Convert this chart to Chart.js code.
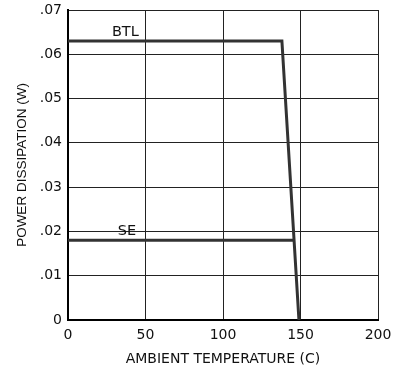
<!DOCTYPE html>
<html>
<head>
<meta charset="utf-8">
<script src="https://cdn.jsdelivr.net/npm/chart.js@4/dist/chart.umd.min.js"></script>
<style>
  html, body { margin: 0; padding: 0; background: #fff; }
  #wrap { width: 395px; height: 369px; }
</style>
</head>
<body>
<div id="wrap"><canvas id="chart" width="395" height="369"></canvas></div>
<script>
const btlTemp = [0, 138, 149];
const btlPower = [0.063, 0.063, 0];
const seTemp = [0, 145.5];
const sePower = [0.018, 0.018];
const xTicks = [0, 50, 100, 150, 200];
const yTicks = [0, 0.01, 0.02, 0.03, 0.04, 0.05, 0.06, 0.07];
const yTickLabels = ["0", ".01", ".02", ".03", ".04", ".05", ".06", ".07"];
const seriesNames = ["BTL", "SE"];
const nameAt = [[37, 0.063], [38, 0.018]];

const ctx = document.getElementById("chart").getContext("2d");
const wide = "'DejaVu Sans', sans-serif";
const narrow = "'Liberation Sans', Arial, sans-serif";

const curveLabels = {
  id: "curveLabels",
  afterDatasetsDraw(chart) {
    const c = chart.ctx;
    const xs = chart.scales.x, ys = chart.scales.y;
    c.save();
    c.font = "14.5px " + wide;
    c.fillStyle = "#111";
    c.textAlign = "center";
    c.textBaseline = "bottom";
    seriesNames.forEach((name, i) => {
      c.fillText(name, xs.getPixelForValue(nameAt[i][0]), ys.getPixelForValue(nameAt[i][1]) - 2);
    });
    c.restore();
  }
};

new Chart(ctx, {
  type: "line",
  data: {
    datasets: [
      {
        label: seriesNames[0],
        data: btlTemp.map((t, i) => ({ x: t, y: btlPower[i] })),
        borderColor: "#333",
        borderWidth: 3,
        pointRadius: 0,
        fill: false,
      },
      {
        label: seriesNames[1],
        data: seTemp.map((t, i) => ({ x: t, y: sePower[i] })),
        borderColor: "#333",
        borderWidth: 3,
        pointRadius: 0,
        fill: false,
      },
    ],
  },
  options: {
    responsive: false,
    animation: false,
    layout: { padding: { left: 0, right: 17, top: 10, bottom: 0 } },
    plugins: { legend: { display: false }, tooltip: { enabled: false } },
    scales: {
      x: {
        type: "linear",
        min: 0,
        max: 200,
        afterBuildTicks: (s) => { s.ticks = xTicks.map((v) => ({ value: v })); },
        afterFit: (s) => { s.height = 49; s.paddingLeft = 0; s.paddingRight = 0; },
        grid: { color: "#222", lineWidth: 1, drawTicks: false },
        border: { color: "#000", width: 2 },
        ticks: { color: "#111", font: { family: wide, size: 14 }, padding: 7, maxRotation: 0 },
        title: { display: true, text: "AMBIENT TEMPERATURE (C)", color: "#111", font: { family: wide, size: 14 }, padding: { top: 0, bottom: 1 } },
      },
      y: {
        min: 0,
        max: 0.07,
        afterBuildTicks: (s) => { s.ticks = yTicks.map((v) => ({ value: v })); },
        afterFit: (s) => { s.width = 68; s.paddingTop = 0; s.paddingBottom = 0; },
        grid: { color: "#222", lineWidth: 1, drawTicks: false },
        border: { color: "#000", width: 2 },
        ticks: {
          color: "#111",
          font: { family: wide, size: 14 },
          padding: 6,
          callback: (v, i) => yTickLabels[i],
        },
        title: { display: true, text: "POWER DISSIPATION (W)", color: "#111", font: { family: narrow, size: 13.5 }, padding: { top: 14, bottom: 0 } },
      },
    },
  },
  plugins: [curveLabels],
});
</script>
</body>
</html>
